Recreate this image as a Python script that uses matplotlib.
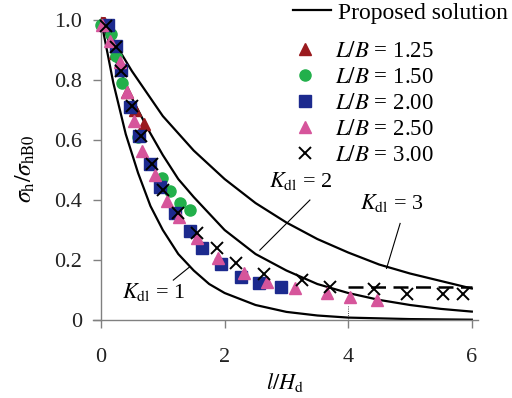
import matplotlib.pyplot as plt
from matplotlib.lines import Line2D

plt.rcParams['font.family'] = ['Liberation Serif', 'DejaVu Serif']
plt.rcParams['mathtext.fontset'] = 'stix'

# proposed solution curves, K_dl = 1, 2, 3
x_k1 = [0, 0.2, 0.4, 0.6, 0.8, 1.0, 1.25, 1.5, 1.75, 2.0, 2.5, 3.0, 3.5, 4.0, 5.0, 6.0]
y_k1 = [1.0, 0.79, 0.62, 0.49, 0.38, 0.30, 0.22, 0.165, 0.12, 0.09, 0.05, 0.027, 0.015, 0.008, 0.003, 0.001]
x_k2 = [0, 0.25, 0.5, 0.75, 1.0, 1.25, 1.5, 2.0, 2.5, 3.0, 3.5, 4.0, 4.5, 5.0, 5.5, 6.0]
y_k2 = [1.0, 0.86, 0.74, 0.64, 0.55, 0.47, 0.41, 0.30, 0.22, 0.165, 0.12, 0.09, 0.067, 0.05, 0.037, 0.028]
x_k3 = [0, 0.5, 1.0, 1.5, 2.0, 2.5, 3.0, 3.5, 4.0, 4.5, 5.0, 5.5, 6.0]
y_k3 = [1.0, 0.83, 0.68, 0.565, 0.47, 0.39, 0.325, 0.27, 0.225, 0.185, 0.155, 0.13, 0.105]

# measured points for each L/B
x_125 = [0.03, 0.22, 0.42, 0.55, 0.70]
y_125 = [1.0, 0.89, 0.76, 0.70, 0.655]
x_150 = [0.0, 0.16, 0.24, 0.34, 0.60, 0.98, 1.12, 1.28, 1.44]
y_150 = [0.985, 0.955, 0.88, 0.79, 0.61, 0.475, 0.43, 0.39, 0.368]
x_200 = [0.12, 0.25, 0.33, 0.47, 0.61, 0.79, 0.95, 1.2, 1.44, 1.63, 1.94, 2.27, 2.56, 2.92]
y_200 = [0.985, 0.915, 0.835, 0.71, 0.615, 0.52, 0.442, 0.358, 0.297, 0.239, 0.186, 0.142, 0.122, 0.11]
x_250 = [0.02, 0.15, 0.30, 0.42, 0.53, 0.67, 0.87, 1.07, 1.26, 1.56, 1.9, 2.31, 2.68, 3.14, 3.66, 4.03, 4.46]
y_250 = [0.985, 0.93, 0.86, 0.76, 0.665, 0.565, 0.483, 0.398, 0.343, 0.272, 0.206, 0.158, 0.128, 0.108, 0.09, 0.078, 0.067]
x_300 = [0.08, 0.24, 0.33, 0.5, 0.64, 0.83, 1.01, 1.25, 1.56, 1.87, 2.18, 2.64, 3.25, 3.7, 4.42, 4.95, 5.54, 5.86]
y_300 = [0.98, 0.91, 0.83, 0.715, 0.615, 0.52, 0.433, 0.358, 0.29, 0.24, 0.19, 0.152, 0.132, 0.11, 0.103, 0.086, 0.086, 0.086]

# residual level
x_res = [4.0, 6.0]
y_res = [0.11, 0.11]

fig = plt.figure(figsize=(5.12, 3.98), dpi=100)
ax = fig.add_axes([0.1816, 0.196, 0.752, 0.761])

for xs, ys in [(x_k1, y_k1), (x_k2, y_k2), (x_k3, y_k3)]:
    ax.plot(xs, ys, color='black', lw=1.6, zorder=2)
ax.plot(x_res, y_res, color='black', lw=1.8, dashes=(6, 3), zorder=2)
ax.plot([4.0, 4.0], [0, 0.045], color='black', lw=0.6, ls=':', zorder=2)

c125, c150, c200, c250 = '#9a1a1e', '#22b04b', '#1c2a8e', '#d6559b'
ax.plot(x_125, y_125, ls='', marker='^', ms=9, color=c125, zorder=3)
ax.plot(x_150, y_150, ls='', marker='o', ms=8, color=c150, zorder=3)
ax.plot(x_200, y_200, ls='', marker='s', ms=8, color=c200, zorder=4)
ax.plot(x_250, y_250, ls='', marker='^', ms=9, color=c250, zorder=5)
ax.plot(x_300, y_300, ls='', marker='x', ms=8.5, mew=1.4, color='black', zorder=6)

# curve labels with leader lines
ax.text(0.86, 0.093, r'$K_{\rm dl}$ = 1', fontsize=16, ha='center', va='center')
ax.plot([1.17, 1.44], [0.133, 0.178], color='black', lw=0.8)
ax.text(3.24, 0.463, r'$K_{\rm dl}$ = 2', fontsize=16, ha='center', va='center')
ax.plot([3.38, 2.57], [0.40, 0.233], color='black', lw=0.8)
ax.text(4.71, 0.39, r'$K_{\rm dl}$ = 3', fontsize=16, ha='center', va='center')
ax.plot([4.84, 4.62], [0.322, 0.172], color='black', lw=0.8)

ax.set_xlim(-0.13, 6.1)
ax.set_ylim(0, 1.01)
ax.set_xticks([0, 2, 4, 6])
ax.set_xticklabels(['0', '2', '4', '6'])
ax.set_yticks([0, 0.2, 0.4, 0.6, 0.8, 1.0])
ax.set_yticklabels(['0', '0.2', '0.4', '0.6', '0.8', '1.0'])
for s in ['top', 'right']:
    ax.spines[s].set_visible(False)
ax.spines['left'].set_position(('data', 0))
for s in ['left', 'bottom']:
    ax.spines[s].set_color('#808080')
    ax.spines[s].set_linewidth(1.0)
ax.tick_params(axis='both', colors='#808080', labelcolor='#222222', labelsize=16, length=6, width=1.0)
ax.tick_params(axis='x', pad=14)
ax.tick_params(axis='y', pad=7.5)
ax.set_xlabel(r'$l/H_{\rm d}$', fontsize=16, labelpad=3)
ax.set_ylabel(r'$\sigma_{\rm h}/\sigma_{\rm hB0}$', fontsize=17)
ax.yaxis.set_label_coords(-0.145, 0.5)

leg1 = fig.legend([Line2D([], [], color='black', lw=1.6)], ['Proposed solution'],
                  loc='upper left', bbox_to_anchor=(0.572, 0.995), frameon=False,
                  fontsize=17, handlelength=1.6, handletextpad=0.3, borderpad=0, borderaxespad=0)
handles = [Line2D([], [], ls='', marker='^', ms=9, color=c125),
           Line2D([], [], ls='', marker='o', ms=8, color=c150),
           Line2D([], [], ls='', marker='s', ms=8, color=c200),
           Line2D([], [], ls='', marker='^', ms=9, color=c250),
           Line2D([], [], ls='', marker='x', ms=8.5, mew=1.4, color='black')]
labels = [r'$L/B$ = 1.25', r'$L/B$ = 1.50', r'$L/B$ = 2.00', r'$L/B$ = 2.50', r'$L/B$ = 3.00']
fig.legend(handles, labels, loc='upper left', bbox_to_anchor=(0.574, 0.898), frameon=False,
           fontsize=16.5, handlelength=1.0, handletextpad=0.8, labelspacing=0.22,
           borderpad=0, borderaxespad=0)

fig.savefig('out.png', dpi=100)
